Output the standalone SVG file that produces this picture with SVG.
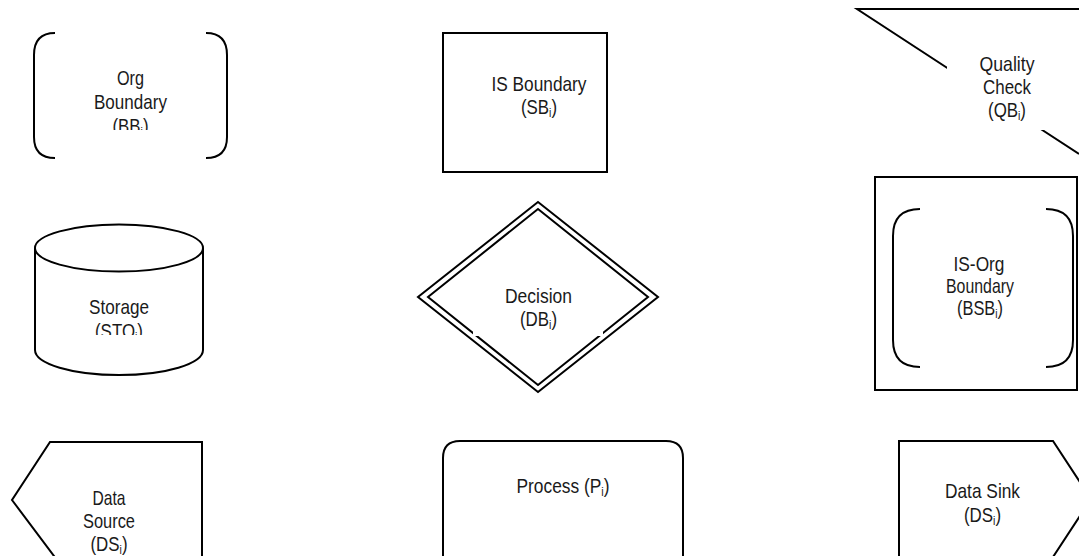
<svg xmlns="http://www.w3.org/2000/svg" width="1079" height="556" viewBox="0 0 1079 556">
  <style>
    .shape { fill: none; stroke: #000; stroke-width: 2; stroke-linejoin: miter; }
    .mask { fill: #fff; stroke: none; }
    .lbl { font-family: "Liberation Sans", Arial, sans-serif; font-size: 21px; fill: #1a1a1a; text-anchor: middle; }
    .sub { font-size: 13px; }
  </style>
  <defs>
    <clipPath id="clipOrg"><rect x="60" y="50" width="140" height="80"/></clipPath>
    <clipPath id="clipSto"><rect x="50" y="280" width="140" height="55"/></clipPath>
  </defs>
  <rect width="1079" height="556" fill="#fff"/>

  <!-- Organisation boundary: paired round brackets -->
  <g id="org-boundary">
    <path class="shape" d="M55,33 Q34,33 34,55 L34,137 Q34,158 55,158"/>
    <path class="shape" d="M206,33 Q227,33 227,55 L227,137 Q227,158 206,158"/>
    <g clip-path="url(#clipOrg)">
      <text class="lbl" x="130.5" y="85" textLength="27" lengthAdjust="spacingAndGlyphs">Org</text>
      <text class="lbl" x="130.5" y="109" textLength="73" lengthAdjust="spacingAndGlyphs">Boundary</text>
      <text class="lbl" x="130.5" y="133" textLength="36" lengthAdjust="spacingAndGlyphs">(BB<tspan class="sub" dy="3">i</tspan><tspan dy="-3">)</tspan></text>
    </g>
  </g>

  <!-- Information-system boundary -->
  <g id="is-boundary">
    <rect class="shape" x="443" y="33" width="164" height="139"/>
    <text class="lbl" x="539" y="91" textLength="95" lengthAdjust="spacingAndGlyphs">IS Boundary</text>
    <text class="lbl" x="539" y="114" textLength="36" lengthAdjust="spacingAndGlyphs">(SB<tspan class="sub" dy="3">i</tspan><tspan dy="-3">)</tspan></text>
  </g>

  <!-- Quality check -->
  <g id="quality-check">
    <path class="shape" d="M1079,9 L857,9 L1079,154"/>
    <rect class="mask" x="947" y="40" width="120" height="90"/>
    <text class="lbl" x="1007" y="71" textLength="55" lengthAdjust="spacingAndGlyphs">Quality</text>
    <text class="lbl" x="1007" y="94" textLength="48" lengthAdjust="spacingAndGlyphs">Check</text>
    <text class="lbl" x="1007" y="117" textLength="38" lengthAdjust="spacingAndGlyphs">(QB<tspan class="sub" dy="3">i</tspan><tspan dy="-3">)</tspan></text>
  </g>

  <!-- Storage cylinder -->
  <g id="storage">
    <ellipse class="shape" cx="119" cy="248" rx="84" ry="23.5"/>
    <path class="shape" d="M35,248 L35,350 A84,25 0 0 0 203,350 L203,248"/>
    <g clip-path="url(#clipSto)">
      <text class="lbl" x="119" y="314" textLength="60" lengthAdjust="spacingAndGlyphs">Storage</text>
      <text class="lbl" x="119" y="338" textLength="48" lengthAdjust="spacingAndGlyphs">(STO<tspan class="sub" dy="3">i</tspan><tspan dy="-3">)</tspan></text>
    </g>
  </g>

  <!-- Decision: double diamond -->
  <g id="decision">
    <polygon class="shape" points="538,202 658,297 538,392 418,297"/>
    <polygon class="shape" points="538,209 648,297 538,385 428,297"/>
    <rect class="mask" x="473" y="272" width="130" height="64"/>
    <text class="lbl" x="538.5" y="303" textLength="67" lengthAdjust="spacingAndGlyphs">Decision</text>
    <text class="lbl" x="538.5" y="326" textLength="37" lengthAdjust="spacingAndGlyphs">(DB<tspan class="sub" dy="3">i</tspan><tspan dy="-3">)</tspan></text>
  </g>

  <!-- IS / organisation boundary: brackets inside a box -->
  <g id="is-org-boundary">
    <rect class="shape" x="875" y="177" width="202" height="213"/>
    <path class="shape" d="M920,209 Q893,209 893,236 L893,340 Q893,367 920,367"/>
    <path class="shape" d="M1046,209 Q1073,209 1073,236 L1073,340 Q1073,367 1046,367"/>
    <text class="lbl" x="979" y="271" textLength="51" lengthAdjust="spacingAndGlyphs">IS-Org</text>
    <text class="lbl" x="980" y="293" textLength="68" lengthAdjust="spacingAndGlyphs">Boundary</text>
    <text class="lbl" x="980" y="315" textLength="46" lengthAdjust="spacingAndGlyphs">(BSB<tspan class="sub" dy="3">i</tspan><tspan dy="-3">)</tspan></text>
  </g>

  <!-- Data source -->
  <g id="data-source">
    <path class="shape" d="M57,560 L12,500 L50,442 L202,442 L202,560"/>
    <text class="lbl" x="109" y="505" textLength="33" lengthAdjust="spacingAndGlyphs">Data</text>
    <text class="lbl" x="109" y="528" textLength="52" lengthAdjust="spacingAndGlyphs">Source</text>
    <text class="lbl" x="109" y="551" textLength="37" lengthAdjust="spacingAndGlyphs">(DS<tspan class="sub" dy="3">i</tspan><tspan dy="-3">)</tspan></text>
  </g>

  <!-- Process -->
  <g id="process">
    <path class="shape" d="M443,560 L443,458 Q443,441 460,441 L666,441 Q683,441 683,458 L683,560"/>
    <text class="lbl" x="563" y="493" textLength="93" lengthAdjust="spacingAndGlyphs">Process (P<tspan class="sub" dy="3">i</tspan><tspan dy="-3">)</tspan></text>
  </g>

  <!-- Data sink -->
  <g id="data-sink">
    <path class="shape" d="M899,560 L899,441 L1053,441 L1091,499 L1053,557"/>
    <text class="lbl" x="982.5" y="498" textLength="75" lengthAdjust="spacingAndGlyphs">Data Sink</text>
    <text class="lbl" x="982.5" y="522" textLength="37" lengthAdjust="spacingAndGlyphs">(DS<tspan class="sub" dy="3">i</tspan><tspan dy="-3">)</tspan></text>
  </g>

  <g id="connectors"/>
</svg>
